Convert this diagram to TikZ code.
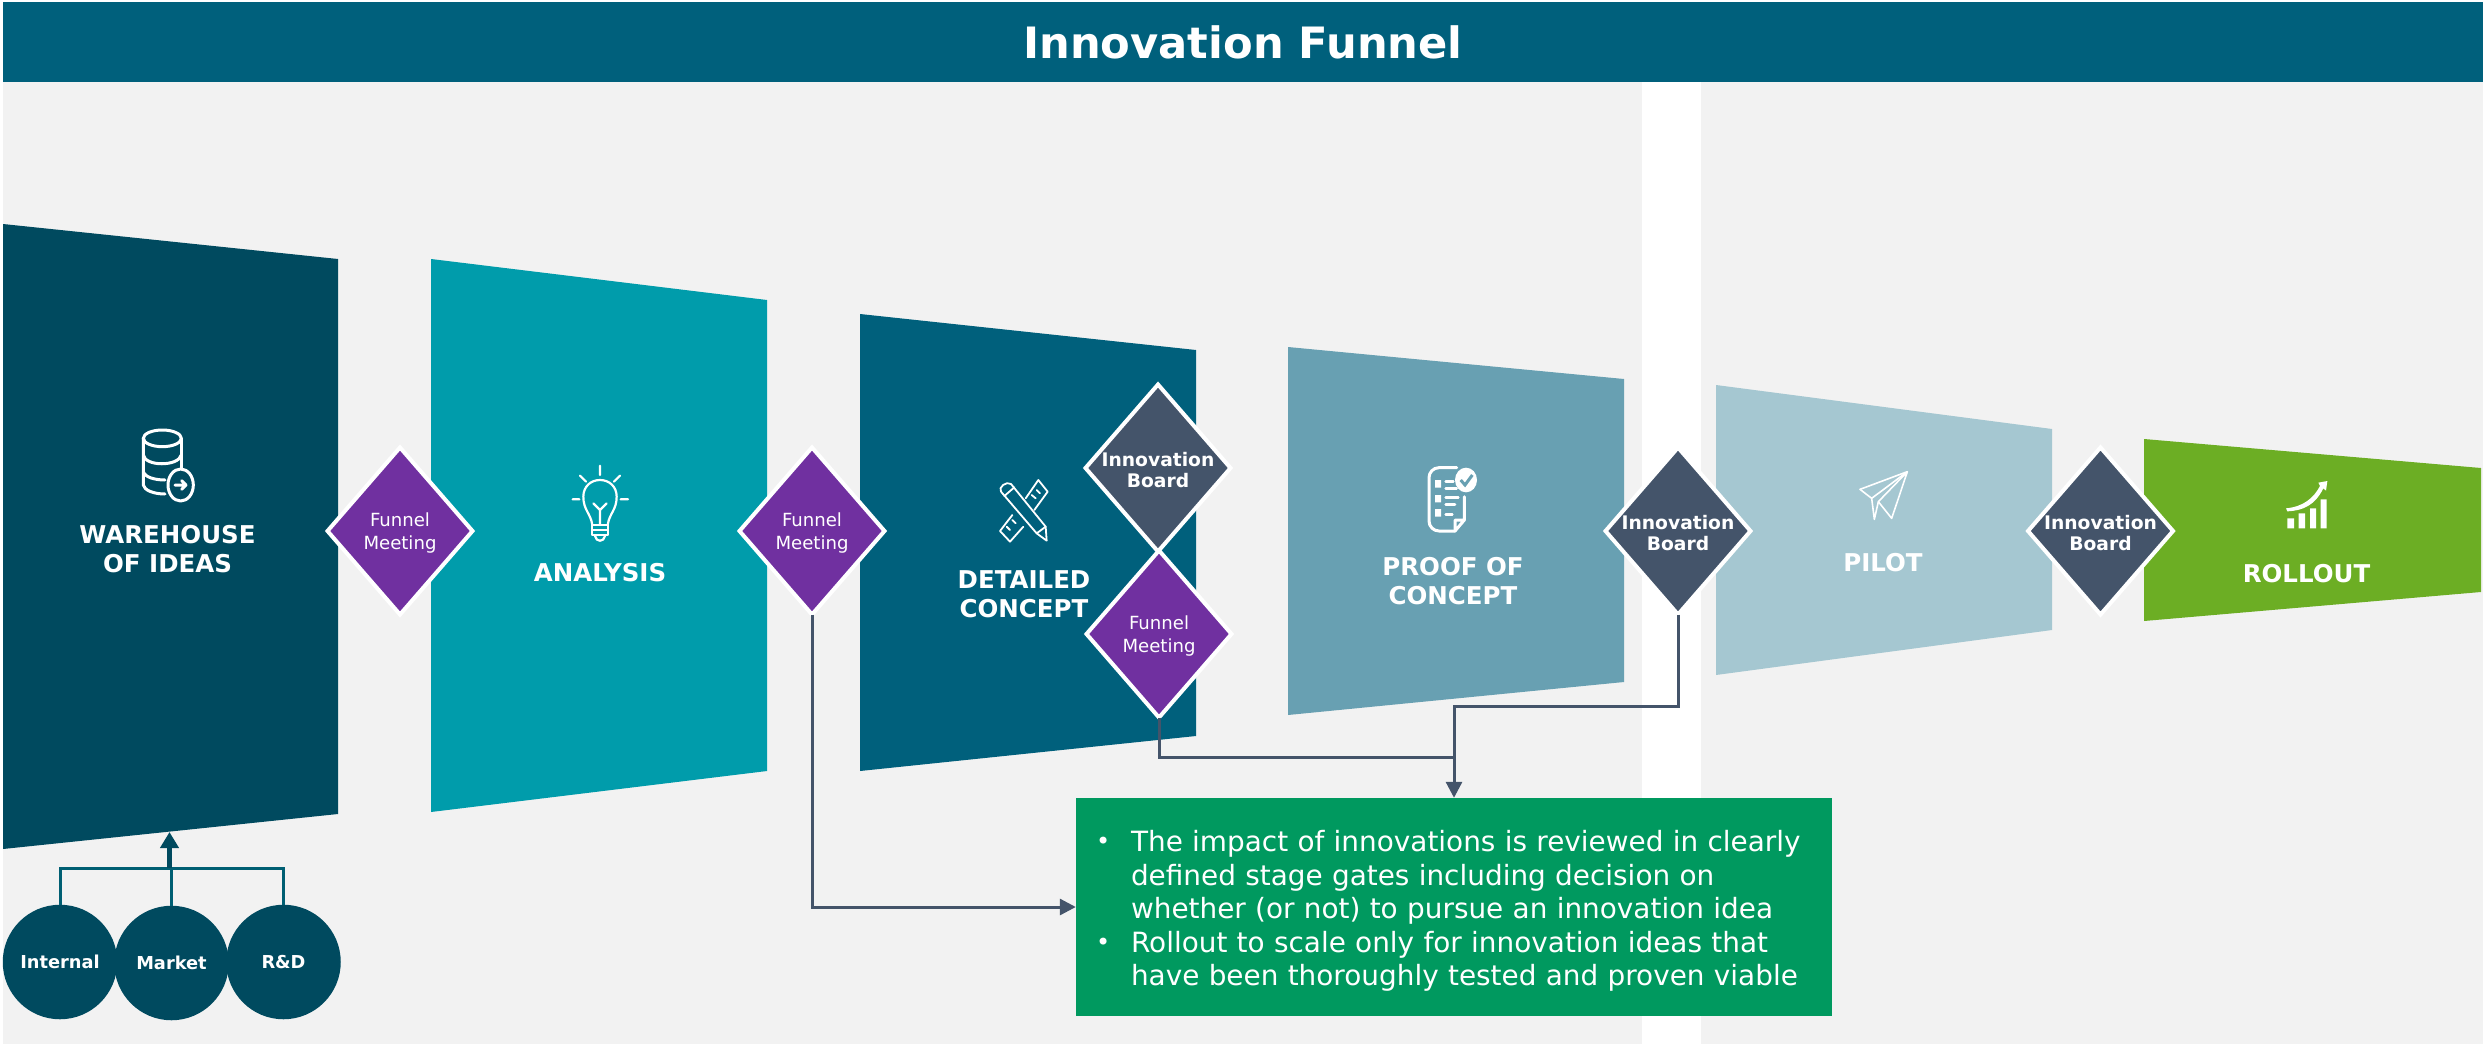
\documentclass[tikz,border=0pt]{standalone}
\usepackage{fontspec}
\setmainfont{DejaVu Sans}
\usetikzlibrary{shapes.geometric,arrows.meta}
\definecolor{panelgrey}{HTML}{F2F2F2}
\definecolor{titleblue}{HTML}{00607C}
\definecolor{warehousecol}{HTML}{004A5F}
\definecolor{analysiscol}{HTML}{009CAB}
\definecolor{proofcol}{HTML}{68A0B2}
\definecolor{pilotcol}{HTML}{A5C7D1}
\definecolor{rolloutcol}{HTML}{6CAE24}
\definecolor{funnelcol}{HTML}{7030A0}
\definecolor{boardcol}{HTML}{44546A}
\definecolor{summarycol}{HTML}{00995F}
\definecolor{bracketcol}{HTML}{005F73}
\newcommand{\bulletline}[1]{\makebox[35pt][l]{\raisebox{2pt}{\fontsize{24}{24}\selectfont\textbullet}}#1}
\newcommand{\hangline}[1]{\hspace*{35pt}#1}
\begin{document}
\begin{tikzpicture}[x=1pt,y=-1pt]
        \tikzset{stagelabel/.style = {text=white,align=center,font=\fontsize{24.5}{29}\selectfont\bfseries}};
        \tikzset{gate/.style = {shape=diamond,draw=white,line width=4pt,inner sep=0pt,outer sep=0pt,minimum width=145pt,minimum height=167pt}};
        \tikzset{funnelgate/.style = {gate,fill=funnelcol,label={[text=white,align=center,yshift=-2pt,font=\fontsize{18.1}{22.5}\selectfont]center:Funnel\\Meeting}}};
        \tikzset{boardgate/.style = {gate,fill=boardcol,label={[text=white,align=center,yshift=-2pt,font=\fontsize{18.7}{21.5}\selectfont\bfseries]center:Innovation\\Board}}};
        \tikzset{source/.style = {shape=circle,fill=warehousecol,text=white,inner sep=0pt,minimum size=114.5pt,font=\fontsize{17.8}{20}\selectfont\bfseries}};
        \tikzset{link/.style = {draw=boardcol,line width=3pt}};
        \tikzset{iconline/.style = {draw=white,line width=2.2pt,line cap=round,line join=round}};
        \useasboundingbox (0,0) rectangle (2483,1044);
        \fill[panelgrey] (3,2) rectangle (2483,1044);
        \fill[white] (1642,82) rectangle (1701,1044);
        \node[fill=titleblue,text=white,minimum width=2480pt,minimum height=80pt,inner sep=0pt,font=\fontsize{43.2}{50}\selectfont\bfseries] (title) at (1243,42) {Innovation Funnel};
        \fill[warehousecol] (3,224) -- (338,259) -- (338,814) -- (3,849) -- cycle;
        \fill[analysiscol] (431,259) -- (767,300) -- (767,771) -- (431,812) -- cycle;
        \fill[titleblue] (860,314) -- (1196,350) -- (1196,736) -- (860,771) -- cycle;
        \fill[proofcol] (1288,347) -- (1624,379) -- (1624,682) -- (1288,715) -- cycle;
        \fill[pilotcol] (1716,385) -- (2052,429) -- (2052,630) -- (1716,675) -- cycle;
        \fill[rolloutcol] (2144,439) -- (2481,468) -- (2481,592) -- (2144,621) -- cycle;
        \begin{scope}[shift={(130,420)},scale=1/3]
            \draw[iconline,line width=3pt] (97,55) ellipse (57 and 25);
            \draw[iconline,line width=3pt] (40,55) -- (40,195) .. controls (42,210) and (70,222) .. (105,222);
            \draw[iconline,line width=3pt] (154,55) -- (154,145);
            \draw[iconline,line width=3pt] (40,105) .. controls (45,140) and (145,140) .. (154,105);
            \draw[iconline,line width=3pt] (40,155) .. controls (45,172) and (75,180) .. (105,180);
            \draw[iconline,line width=3pt] (152,195) ellipse (38 and 48);
            \draw[iconline,line width=3pt] (135,195) -- (168,195) (155,182) -- (168,195) -- (155,208);
        \end{scope}
        \begin{scope}[shift={(560,455)},scale=1/3]
            \draw[iconline] (120,32) -- (120,60) (60,62) -- (78,80) (180,62) -- (162,80) (38,133) -- (58,133) (182,133) -- (204,133);
            \draw[iconline] (97,210) .. controls (92,175) and (70,165) .. (70,125) .. controls (70,95) and (92,75) .. (120,75) .. controls (148,75) and (170,95) .. (170,125) .. controls (170,165) and (148,175) .. (143,210);
            \draw[iconline] (120,210) -- (120,165) (100,145) -- (120,165) -- (140,145);
            \draw[iconline] (97,210) rectangle (143,240) (97,225) -- (143,225);
            \draw[iconline] (105,243) .. controls (108,262) and (132,262) .. (135,243);
        \end{scope}
        \begin{scope}[shift={(985,470)},scale=1/3]
            \draw[iconline,line width=1.8pt] (48,65) -- (155,190) -- (185,212) -- (182,170) -- (78,42) .. controls (65,32) and (38,52) .. (48,65);
            \draw[iconline,line width=1.8pt] (155,190) -- (182,170) (58,78) -- (88,52);
            \draw[iconline,line width=1.8pt] (122,85) -- (160,30) -- (188,65) -- (148,120);
            \draw[iconline,line width=1.8pt] (82,135) -- (45,183) -- (75,215) -- (115,170);
            \draw[iconline,line width=1.8pt] (140,75) -- (152,85) (155,60) -- (165,70) (65,170) -- (75,180) (82,150) -- (92,160);
        \end{scope}
        \begin{scope}[shift={(1415,455)},scale=1/3]
            \draw[iconline,line width=3pt,rounded corners=10pt] (125,38) -- (42,38) -- (42,228) -- (120,228);
            \draw[iconline,line width=3pt] (120,228) -- (148,195) -- (148,125) (120,228) -- (120,195) -- (148,195);
            \fill[white] (60,75) rectangle (78,98) (60,120) rectangle (78,142) (60,162) rectangle (78,185);
            \draw[iconline,line width=2.5pt] (92,80) -- (115,80) (92,100) -- (125,100) (92,128) -- (130,128) (92,148) -- (120,148) (92,178) -- (112,178);
            \fill[white] (153,75) ellipse (33 and 37);
            \draw[proofcol,line width=3pt] (137,75) -- (150,90) -- (172,60);
        \end{scope}
        \begin{scope}[shift={(1845,460)},scale=1/3]
            \draw[iconline,line width=1.6pt] (45,88) -- (187,35) -- (140,175) -- (100,125) -- (187,35);
            \draw[iconline,line width=1.6pt] (45,88) -- (80,115) -- (187,35);
            \draw[iconline,line width=1.6pt] (80,115) -- (88,178) -- (100,125);
        \end{scope}
        \begin{scope}[shift={(2270,470)},scale=1/3]
            \fill[white] (52,145) rectangle (72,175) (86,130) rectangle (105,175) (120,115) rectangle (138,175) (152,88) rectangle (170,175);
            \fill[white] (48,115) .. controls (100,110) and (130,85) .. (150,48) -- (145,38) -- (172,33) -- (168,62) -- (160,55) .. controls (135,105) and (100,122) .. (52,124) -- cycle;
        \end{scope}
        \node[stagelabel] (warehouse) at (167.5,549) {WAREHOUSE\\OF IDEAS};
        \node[stagelabel] (analysis) at (600,573) {ANALYSIS};
        \node[stagelabel] (detailed) at (1024,594.5) {DETAILED\\CONCEPT};
        \node[stagelabel] (proof) at (1453,581.5) {PROOF OF\\CONCEPT};
        \node[stagelabel] (pilot) at (1883,563) {PILOT};
        \node[stagelabel] (rollout) at (2306.5,574) {ROLLOUT};
        \node[funnelgate] (funnelA) at (400,531) {};
        \node[funnelgate] (funnelB) at (812,531) {};
        \node[boardgate] (boardA) at (1158,468) {};
        \node[funnelgate] (funnelC) at (1159,634) {};
        \node[boardgate] (boardB) at (1678,531) {};
        \node[boardgate] (boardC) at (2100.5,531) {};
        \node[source] (internal) at (60,962) {Internal};
        \node[source] (market) at (171.5,963) {Market};
        \node[source] (rnd) at (283.5,962) {R\&D};
        \node[fill=summarycol,text=white,minimum width=756pt,minimum height=218pt,inner xsep=20pt,text width=716pt,align=left,font=\fontsize{27.9}{33.5}\selectfont] (summary) at (1454,907) {\rule{0pt}{29pt}\bulletline{The impact of innovations is reviewed in clearly}\\\hangline{defined stage gates including decision on}\\\hangline{whether (or not) to pursue an innovation idea}\\\bulletline{Rollout to scale only for innovation ideas that}\\\hangline{have been thoroughly tested and proven viable}};
        \coordinate (sourcejoin) at (169.5,868);
        \coordinate (warehousefoot) at (169.5,832);
        \coordinate (joinA) at (1454,757);
        \coordinate (joinB) at (1454,706);
        \draw[bracketcol,line width=3pt] (internal.north) |- (sourcejoin) -| (rnd.north);
        \draw[bracketcol,line width=3pt] (market.north) -- (market.north |- sourcejoin);
        \draw[-{Triangle[length=16pt,width=18pt]},warehousecol,line width=4.5pt] (sourcejoin) -- (warehousefoot);
        \draw[link,-{Triangle[length=16pt,width=16pt]}] (funnelB.south) |- (summary.west);
        \draw[link] (funnelC.south) |- (joinA);
        \draw[link,-{Triangle[length=16pt,width=16pt]}] (boardB.south) |- (joinB) -- (summary.north);
\end{tikzpicture}
\end{document}
